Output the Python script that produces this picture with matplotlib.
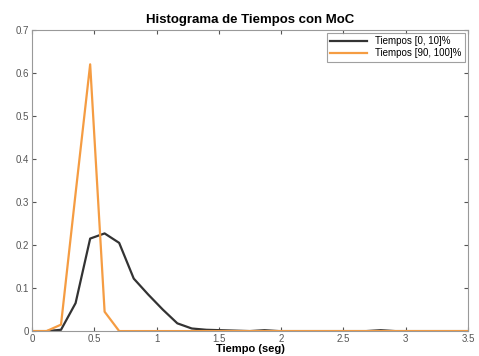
import matplotlib
matplotlib.use("Agg")
import matplotlib.pyplot as plt
import numpy as np

# bin centers (seconds)
x_black = [0.0, 0.117, 0.233, 0.35, 0.467, 0.583, 0.7, 0.817, 0.933, 1.05, 1.167, 1.283,
           1.4, 1.517, 1.633, 1.75, 1.867, 1.983, 2.1, 2.217, 2.333, 2.45, 2.567,
           2.683, 2.8, 2.917, 3.033, 3.15, 3.267, 3.383, 3.5]
y_black = [0.0, 0.0, 0.003, 0.065, 0.215, 0.227, 0.205, 0.122, 0.085, 0.05, 0.018, 0.006,
           0.003, 0.002, 0.001, 0.0, 0.002, 0.0, 0.0, 0.0, 0.0, 0.0, 0.0,
           0.0, 0.002, 0.0, 0.0, 0.0, 0.0, 0.0, 0.0]
x_orange = [0.0, 0.117, 0.233, 0.35, 0.467, 0.583, 0.7, 3.5]
y_orange = [0.0, 0.0, 0.015, 0.32, 0.62, 0.045, 0.0, 0.0]

xticks = [0, 0.5, 1, 1.5, 2, 2.5, 3, 3.5]
yticks = [0, 0.1, 0.2, 0.3, 0.4, 0.5, 0.6, 0.7]
xtick_labels = ["0", "0.5", "1", "1.5", "2", "2.5", "3", "3.5"]
ytick_labels = ["0", "0.1", "0.2", "0.3", "0.4", "0.5", "0.6", "0.7"]

plt.rcParams['font.family'] = ['Liberation Sans', 'DejaVu Sans']

fig = plt.figure(figsize=(4.79, 3.56), dpi=100)
ax = fig.add_axes([0.0668, 0.070, 0.910, 0.846])

ax.plot(x_black, y_black, color='#333333', lw=1.6, label='Tiempos [0, 10]%')
ax.plot(x_orange, y_orange, color='#f59c42', lw=1.6, label='Tiempos [90, 100]%')

ax.set_xlim(0, 3.5)
ax.set_ylim(0, 0.7)
ax.set_xticks(xticks)
ax.set_xticklabels(xtick_labels)
ax.set_yticks(yticks)
ax.set_yticklabels(ytick_labels)
ax.tick_params(direction='in', top=True, right=True, labelsize=7, length=3,
               colors='#555555', pad=2)
for s in ax.spines.values():
    s.set_color('#999999')
    s.set_linewidth(0.8)

ax.set_title('Histograma de Tiempos con MoC', fontsize=9.5, fontweight='bold', pad=5)
ax.set_xlabel('Tiempo (seg)', fontsize=8, fontweight='bold', labelpad=0)

leg = ax.legend(loc='upper right', fontsize=7, frameon=True, fancybox=False,
                edgecolor='#888888', borderpad=0.35, handlelength=3.8,
                labelspacing=0.2, borderaxespad=0.3)
leg.get_frame().set_linewidth(0.8)

fig.savefig('out.png', dpi=100)
